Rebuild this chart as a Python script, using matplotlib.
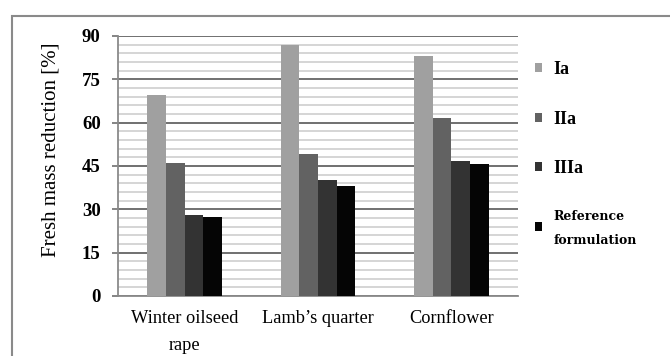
import matplotlib
matplotlib.use("Agg")
import matplotlib.pyplot as plt
import numpy as np
from matplotlib.patches import Rectangle

categories = ["Winter oilseed\nrape", "Lamb\u2019s quarter", "Cornflower"]
series_names = ["Ia", "IIa", "IIIa", "Reference\nformulation"]
ia = [69.5, 87.0, 83.0]
iia = [46.0, 49.0, 61.5]
iiia = [28.0, 40.0, 46.7]
ref = [27.5, 38.0, 45.7]
yticks = [0, 15, 30, 45, 60, 75, 90]
colors = ["#a0a0a0", "#626262", "#333333", "#050505"]

plt.rcParams['font.family'] = ['Liberation Serif', 'DejaVu Serif']

fig = plt.figure(figsize=(6.7, 3.56), dpi=100)
ax = fig.add_axes([118/670, 1-296/356, 400/670, 260/356])

x = np.arange(len(categories))
w = 0.14
for i, (vals, c, name) in enumerate(zip([ia, iia, iiia, ref], colors, series_names)):
    ax.bar(x + (i - 1.5) * w, vals, width=w, color=c, label=name, zorder=3)

ax.set_xlim(-0.5, 2.5)
ax.set_ylim(0, 90)
ax.set_yticks(yticks)
ax.set_yticks(np.arange(0, 91, 3), minor=True)
ax.yaxis.grid(True, which='minor', color='#d2d2d2', linewidth=1.3, zorder=0)
ax.yaxis.grid(True, which='major', color='#707070', linewidth=1.4, zorder=1)
ax.tick_params(axis='y', which='minor', length=0)
ax.tick_params(axis='y', which='major', length=4.5, color='#707070', width=1.2, labelsize=13.5, pad=8)
ax.tick_params(axis='x', length=0, labelsize=13.2, pad=10)
ax.set_xticks(x)
ax.set_xticklabels(categories, linespacing=1.8)
for lab in ax.get_yticklabels():
    lab.set_fontweight('bold')
for s in ['top', 'right']:
    ax.spines[s].set_visible(False)
for s in ['left', 'bottom']:
    ax.spines[s].set_color('#8a8a8a')
    ax.spines[s].set_linewidth(1.3)

fig.text(51/670, 1-150/356, "Fresh mass reduction [%]", rotation=90, ha='center', va='center', fontsize=15)

leg = fig.legend(loc='upper left', bbox_to_anchor=(519/670, 1-45/356), frameon=False,
                 prop={'weight': 'bold', 'size': 13}, handlelength=0.4, handleheight=0.4,
                 handletextpad=0.6, labelspacing=1.8)
texts = leg.get_texts()
texts[3].set_fontsize(9)
texts[3].set_family('DejaVu Serif')
texts[3].set_linespacing(2.1)

fig.patches.append(Rectangle((12/670, -0.1), 1.0, 1-16/356 + 0.1, transform=fig.transFigure,
                             fill=False, edgecolor='#8a8a8a', linewidth=1.5))

fig.savefig("out.png", dpi=100)
